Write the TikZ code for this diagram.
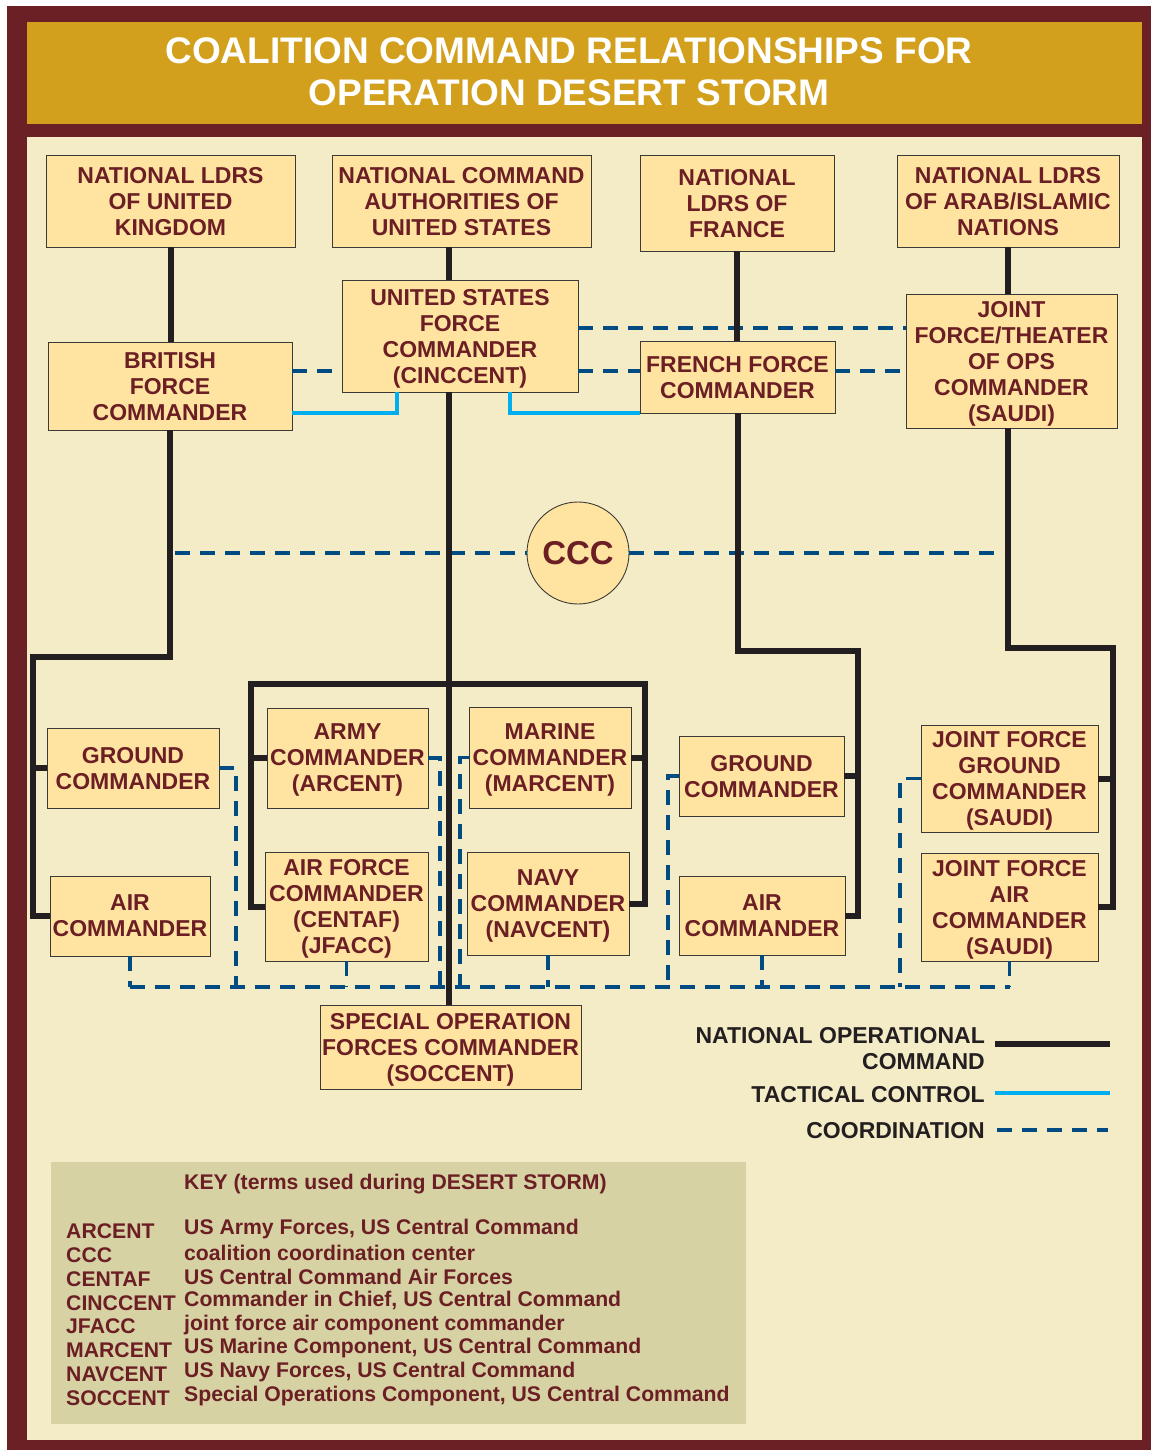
\documentclass[tikz,border=0pt]{standalone}
\usepackage{fontspec}
\setmainfont{Liberation Sans}
\definecolor{maroonb}{HTML}{6A2024}
\definecolor{goldh}{HTML}{D2A01C}
\definecolor{creambg}{HTML}{F4EBC7}
\definecolor{boxfill}{HTML}{FFE4A1}
\definecolor{boxtext}{HTML}{6B1E24}
\definecolor{boxline}{HTML}{3C3A36}
\definecolor{keyfill}{HTML}{D6D2A3}
\definecolor{coordblue}{HTML}{004B82}
\definecolor{tacblue}{HTML}{00AEEF}
\definecolor{cmdblack}{HTML}{231F20}
\newcommand\boxfont{\fontsize{23}{26}\selectfont\bfseries}
\newcommand\keyfont{\fontsize{21.2}{24}\selectfont\bfseries}
\tikzset{
  cbox/.style={draw=boxline, line width=0.9pt, fill=boxfill, text=boxtext, font=\boxfont, align=center, inner sep=0pt, text depth=0pt},
  cmdln/.style={draw=cmdblack, line width=6pt},
  tacln/.style={draw=tacblue, line width=4.5pt},
  coordln/.style={draw=coordblue, line width=3.5pt, dash pattern=on 15pt off 10pt},
  legtext/.style={text=cmdblack, font=\boxfont, align=right, inner sep=0pt, anchor=east},
  keyab/.style={text=boxtext, font=\keyfont, inner sep=0pt, anchor=west},
}
\begin{document}
\begin{tikzpicture}[x=1pt,y=-1pt]
\useasboundingbox (0,0) rectangle (1152,1454);
\fill[white] (0,0) rectangle (1152,1454);
\fill[maroonb] (7,6) rectangle (1151,1450);
\fill[goldh] (27,22) rectangle (1142,124);
\fill[creambg] (27,137) rectangle (1142,1440);
\node[text=white, font=\fontsize{37}{42}\selectfont\bfseries, align=center, inner sep=0pt] (title) at (569,72) {COALITION COMMAND RELATIONSHIPS FOR\\OPERATION DESERT STORM};

% top row
\node[cbox, minimum width=249pt, minimum height=92pt] (uk) at (170.5,201) {NATIONAL LDRS\\OF UNITED\\KINGDOM};
\node[cbox, minimum width=259pt, minimum height=92pt] (nca) at (461.5,201) {NATIONAL COMMAND\\AUTHORITIES OF\\UNITED STATES};
\node[cbox, minimum width=194pt, minimum height=96pt] (fr) at (737,203) {NATIONAL\\LDRS OF\\FRANCE};
\node[cbox, minimum width=222pt, minimum height=92pt] (arab) at (1008,201) {NATIONAL LDRS\\OF ARAB/ISLAMIC\\NATIONS};
% force commanders
\node[cbox, minimum width=236pt, minimum height=112pt] (cinc) at (460,336) {UNITED STATES\\FORCE\\COMMANDER\\(CINCCENT)};
\node[cbox, minimum width=244pt, minimum height=88pt] (brit) at (170,386) {BRITISH\\FORCE\\COMMANDER};
\node[cbox, minimum width=195pt, minimum height=72pt] (frfc) at (737.5,377) {FRENCH FORCE\\COMMANDER};
\node[cbox, minimum width=211pt, minimum height=134pt] (jf) at (1011.5,361) {JOINT\\FORCE/THEATER\\OF OPS\\COMMANDER\\(SAUDI)};
\node[cbox, circle, minimum size=102pt, font=\fontsize{33}{36}\selectfont\bfseries] (ccc) at (578,553) {CCC};
% components
\node[cbox, minimum width=172pt, minimum height=80pt] (gnduk) at (133,768) {GROUND\\COMMANDER};
\node[cbox, minimum width=160pt, minimum height=80pt] (airuk) at (130,916) {AIR\\COMMANDER};
\node[cbox, minimum width=161pt, minimum height=100pt] (army) at (347.5,758) {ARMY\\COMMANDER\\(ARCENT)};
\node[cbox, minimum width=163pt, minimum height=109pt] (af) at (346.5,906.5) {AIR FORCE\\COMMANDER\\(CENTAF)\\(JFACC)};
\node[cbox, minimum width=162pt, minimum height=101pt] (marine) at (550,757.5) {MARINE\\COMMANDER\\(MARCENT)};
\node[cbox, minimum width=162pt, minimum height=103pt] (navy) at (548,903.5) {NAVY\\COMMANDER\\(NAVCENT)};
\node[cbox, minimum width=165pt, minimum height=80pt] (gndfr) at (761.5,776) {GROUND\\COMMANDER};
\node[cbox, minimum width=166pt, minimum height=79pt] (airfr) at (762,915.5) {AIR\\COMMANDER};
\node[cbox, minimum width=177pt, minimum height=107pt] (jfg) at (1009.5,778.5) {JOINT FORCE\\GROUND\\COMMANDER\\(SAUDI)};
\node[cbox, minimum width=177pt, minimum height=108pt] (jfa) at (1009.5,907) {JOINT FORCE\\AIR\\COMMANDER\\(SAUDI)};
\node[cbox, minimum width=261pt, minimum height=84pt] (soc) at (450.5,1047) {SPECIAL OPERATION\\FORCES COMMANDER\\(SOCCENT)};

% helper coordinates
\coordinate (spine) at (449,0);
\coordinate (ukl) at (33,657);
\coordinate (usl) at (251,684);
\coordinate (usr) at (645,684);
\coordinate (frt) at (858,651);
\coordinate (sat) at (1113,648);
\coordinate (bus) at (0,987);

% coordination
\draw[coordln] (brit.east |- 0,371) -- (cinc.west |- 0,371);
\draw[coordln] (cinc.east |- 0,371) -- (frfc.west |- 0,371);
\draw[coordln] (frfc.east |- 0,371) -- (jf.west |- 0,371);
\draw[coordln] (cinc.east |- 0,328) -- (jf.west |- 0,328);
\draw[coordln] (175,553) -- (ccc.west);
\draw[coordln] (ccc.east) -- (1000,553);
\draw[coordln] (airuk.south |- bus) -- (jfa.south |- bus);
\draw[coordln] (airuk.south) -- (airuk.south |- bus);
\draw[coordln] (af.south) -- (af.south |- bus);
\draw[coordln] (navy.south) -- (navy.south |- bus);
\draw[coordln] (airfr.south) -- (airfr.south |- bus);
\draw[coordln] (jfa.south) -- (jfa.south |- bus);
\draw[coordln] (gnduk.east) -| (236,987);
\draw[coordln] (army.east) -| (440,987);
\draw[coordln] (marine.west) -| (460,987);
\draw[coordln] (gndfr.west) -| (668,987);
\draw[coordln] (jfg.west) -| (900,987);

% tactical control
\draw[tacln] (brit.east |- 0,413) -| (397,0 |- cinc.south);
\draw[tacln] (510,0 |- cinc.south) |- (frfc.west |- 0,413);

% national operational command
\draw[cmdln] (uk.south) -- (uk.south |- brit.north);
\draw[cmdln] (brit.south) |- (ukl) -- (ukl |- airuk.west) -- (airuk.west);
\draw[cmdln] (ukl |- gnduk.west) -- (gnduk.west);
\draw[cmdln] (spine |- nca.south) -- (spine |- cinc.north);
\draw[cmdln] (spine |- cinc.south) -- (spine |- soc.north);
\draw[cmdln] (af.west) -| (usl) -- (usr) |- (navy.east);
\draw[cmdln] (usl |- army.west) -- (army.west);
\draw[cmdln] (usr |- marine.east) -- (marine.east);
\draw[cmdln] (fr.south) -- (fr.south |- frfc.north);
\draw[cmdln] (frfc.south) |- (frt) |- (airfr.east);
\draw[cmdln] (frt |- gndfr.east) -- (gndfr.east);
\draw[cmdln] (arab.south) -- (arab.south |- jf.north);
\draw[cmdln] (arab.south |- jf.south) |- (sat) |- (jfa.east);
\draw[cmdln] (sat |- jfg.east) -- (jfg.east);

% legend
\node[legtext] (lg1) at (985,1049) {NATIONAL OPERATIONAL\\COMMAND};
\node[legtext] (lg2) at (985,1095) {TACTICAL CONTROL};
\node[legtext] (lg3) at (985,1131) {COORDINATION};
\coordinate (l1a) at (995,1044); \coordinate (l1b) at (1110,1044);
\coordinate (l2a) at (995,1093); \coordinate (l2b) at (1110,1093);
\coordinate (l3a) at (997,1130); \coordinate (l3b) at (1108,1130);
\draw[cmdln] (l1a) -- (l1b);
\draw[tacln] (l2a) -- (l2b);
\draw[coordln] (l3a) -- (l3b);

% key
\fill[keyfill] (51,1162) rectangle (746,1424);
\node[keyab] (keyt) at (184,1184) {KEY (terms used during DESERT STORM)};
\foreach \ab/\df [count=\i from 0] in {ARCENT/{US Army Forces, US Central Command},CCC/coalition coordination center,CENTAF/US Central Command Air Forces,CINCCENT/{Commander in Chief, US Central Command},JFACC/joint force air component commander,MARCENT/{US Marine Component, US Central Command},NAVCENT/{US Navy Forces, US Central Command},SOCCENT/{Special Operations Component, US Central Command}}{
  \node[keyab] (ka\i) at (66,1231+23.9*\i) {\ab};
  \node[keyab] (kd\i) at (184,1229+23.9*\i) {\df};
}
\end{tikzpicture}
\end{document}
